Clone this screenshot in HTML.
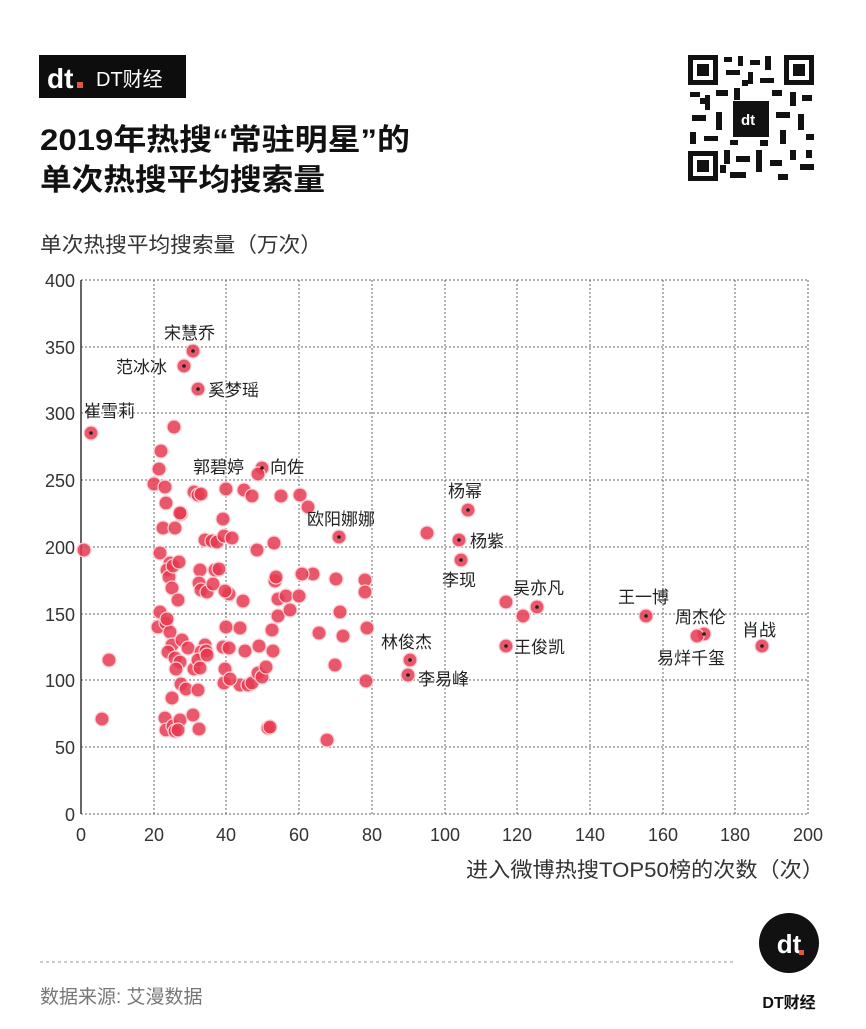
<!DOCTYPE html>
<html><head><meta charset="utf-8"><style>
body{margin:0;background:#fff;}
svg text{font-family:"Liberation Sans","Noto Sans CJK SC",sans-serif;}
</style></head><body>
<svg width="866" height="1024" viewBox="0 0 866 1024" xmlns="http://www.w3.org/2000/svg">
<rect width="866" height="1024" fill="#fff"/>
<!-- logo -->
<rect x="39" y="55" width="147" height="43" fill="#0d0d0d"/>
<text x="47" y="88" font-size="28" font-weight="bold" fill="#fff">dt</text>
<rect x="77" y="82" width="6" height="6" fill="#e0593f"/>
<text x="96" y="86" font-size="20" fill="#fff">DT财经</text>
<text x="40" y="150" font-size="30" font-weight="bold" fill="#111" textLength="370" lengthAdjust="spacingAndGlyphs">2019年热搜“常驻明星”的</text>
<text x="40" y="190" font-size="30" font-weight="bold" fill="#111" textLength="285" lengthAdjust="spacingAndGlyphs">单次热搜平均搜索量</text>
<text x="40" y="252" font-size="21" fill="#333" textLength="282" lengthAdjust="spacingAndGlyphs">单次热搜平均搜索量（万次）</text>
<!-- QR -->
<g id="qr" fill="#111">
<rect x="686" y="53" width="130" height="130" fill="#fff"/>
<g>
<rect x="688" y="55" width="30" height="30"/><rect x="693" y="60" width="20" height="20" fill="#fff"/><rect x="697" y="64" width="12" height="12"/>
<rect x="784" y="55" width="30" height="30"/><rect x="789" y="60" width="20" height="20" fill="#fff"/><rect x="793" y="64" width="12" height="12"/>
<rect x="688" y="151" width="30" height="30"/><rect x="693" y="156" width="20" height="20" fill="#fff"/><rect x="697" y="160" width="12" height="12"/>
<rect x="724" y="57" width="8" height="5"/><rect x="738" y="56" width="5" height="10"/><rect x="750" y="60" width="10" height="5"/><rect x="765" y="56" width="6" height="14"/><rect x="726" y="70" width="14" height="5"/><rect x="748" y="72" width="5" height="12"/><rect x="760" y="78" width="14" height="5"/>
<rect x="690" y="92" width="10" height="5"/><rect x="705" y="95" width="5" height="15"/><rect x="716" y="90" width="12" height="6"/><rect x="734" y="88" width="6" height="12"/><rect x="772" y="90" width="10" height="6"/><rect x="790" y="92" width="6" height="14"/><rect x="802" y="95" width="10" height="6"/>
<rect x="692" y="115" width="14" height="6"/><rect x="716" y="112" width="6" height="18"/><rect x="776" y="112" width="14" height="6"/><rect x="798" y="114" width="6" height="16"/><rect x="690" y="132" width="6" height="12"/><rect x="704" y="136" width="14" height="5"/><rect x="780" y="130" width="6" height="14"/><rect x="806" y="134" width="8" height="6"/>
<rect x="724" y="150" width="6" height="14"/><rect x="736" y="156" width="14" height="6"/><rect x="756" y="150" width="6" height="22"/><rect x="770" y="160" width="12" height="6"/><rect x="790" y="150" width="6" height="10"/><rect x="800" y="164" width="14" height="6"/><rect x="730" y="172" width="16" height="6"/><rect x="778" y="174" width="10" height="6"/><rect x="730" y="140" width="8" height="5"/>
<rect x="700" y="98" width="6" height="6"/><rect x="742" y="80" width="6" height="6"/><rect x="760" y="140" width="8" height="6"/><rect x="720" y="165" width="6" height="8"/><rect x="806" y="150" width="6" height="8"/>
</g>
<rect x="733" y="101" width="36" height="36" fill="#111"/>
<text x="741" y="125" font-size="15" font-weight="bold" fill="#fff">dt</text>
</g>
<!-- grid -->
<g stroke="#666" stroke-width="1" stroke-dasharray="2,2">
<line x1="81" y1="280" x2="808" y2="280"/><line x1="81" y1="347" x2="808" y2="347"/><line x1="81" y1="413" x2="808" y2="413"/><line x1="81" y1="480" x2="808" y2="480"/><line x1="81" y1="547" x2="808" y2="547"/><line x1="81" y1="614" x2="808" y2="614"/><line x1="81" y1="680" x2="808" y2="680"/><line x1="81" y1="747" x2="808" y2="747"/><line x1="81" y1="814" x2="808" y2="814"/>
<line x1="154" y1="280" x2="154" y2="814"/><line x1="226" y1="280" x2="226" y2="814"/><line x1="299" y1="280" x2="299" y2="814"/><line x1="372" y1="280" x2="372" y2="814"/><line x1="445" y1="280" x2="445" y2="814"/><line x1="517" y1="280" x2="517" y2="814"/><line x1="590" y1="280" x2="590" y2="814"/><line x1="663" y1="280" x2="663" y2="814"/><line x1="735" y1="280" x2="735" y2="814"/><line x1="808" y1="280" x2="808" y2="814"/>
</g>
<line x1="81" y1="280" x2="81" y2="814" stroke="#333" stroke-width="1.5"/>
<g font-size="18" fill="#333" text-anchor="end">
<text x="75" y="287">400</text><text x="75" y="354">350</text><text x="75" y="420">300</text><text x="75" y="487">250</text><text x="75" y="554">200</text><text x="75" y="621">150</text><text x="75" y="687">100</text><text x="75" y="754">50</text><text x="75" y="821">0</text>
</g>
<g font-size="18" fill="#333" text-anchor="middle">
<text x="81" y="841">0</text><text x="154" y="841">20</text><text x="226" y="841">40</text><text x="299" y="841">60</text><text x="372" y="841">80</text><text x="445" y="841">100</text><text x="517" y="841">120</text><text x="590" y="841">140</text><text x="663" y="841">160</text><text x="735" y="841">180</text><text x="808" y="841">200</text>
</g>
<text x="466" y="877" font-size="21" fill="#333" textLength="358" lengthAdjust="spacingAndGlyphs">进入微博热搜TOP50榜的次数（次）</text>
<!-- dots -->
<g fill="#e63a50" fill-opacity="0.85" stroke="#fbd0d5" stroke-width="1.2">
<circle cx="84" cy="550" r="7"/><circle cx="109" cy="660" r="7"/><circle cx="102" cy="719" r="7"/><circle cx="174" cy="427" r="7"/><circle cx="154" cy="484" r="7"/><circle cx="161" cy="451" r="7"/><circle cx="159" cy="469" r="7"/><circle cx="165" cy="487" r="7"/><circle cx="166" cy="503" r="7"/><circle cx="163" cy="528" r="7"/><circle cx="160" cy="553" r="7"/><circle cx="175" cy="528" r="7"/><circle cx="181" cy="514" r="7"/><circle cx="170" cy="563" r="7"/><circle cx="167" cy="570" r="7"/><circle cx="169" cy="577" r="7"/><circle cx="173" cy="566" r="7"/><circle cx="179" cy="562" r="7"/><circle cx="172" cy="588" r="7"/><circle cx="178" cy="600" r="7"/><circle cx="160" cy="612" r="7"/><circle cx="158" cy="627" r="7"/><circle cx="166" cy="623" r="7"/><circle cx="170" cy="632" r="7"/><circle cx="172" cy="645" r="7"/><circle cx="168" cy="652" r="7"/><circle cx="175" cy="658" r="7"/><circle cx="180" cy="662" r="7"/><circle cx="176" cy="669" r="7"/><circle cx="182" cy="640" r="7"/><circle cx="181" cy="684" r="7"/><circle cx="172" cy="698" r="7"/><circle cx="165" cy="718" r="7"/><circle cx="166" cy="730" r="7"/><circle cx="173" cy="726" r="7"/><circle cx="180" cy="720" r="7"/><circle cx="175" cy="731" r="7"/><circle cx="186" cy="689" r="7"/><circle cx="188" cy="648" r="7"/><circle cx="194" cy="669" r="7"/><circle cx="198" cy="690" r="7"/><circle cx="193" cy="715" r="7"/><circle cx="199" cy="729" r="7"/><circle cx="178" cy="730" r="7"/><circle cx="194" cy="492" r="7"/><circle cx="198" cy="495" r="7"/><circle cx="201" cy="494" r="7"/><circle cx="180" cy="513" r="7"/><circle cx="200" cy="570" r="7"/><circle cx="199" cy="583" r="7"/><circle cx="201" cy="590" r="7"/><circle cx="207" cy="592" r="7"/><circle cx="213" cy="584" r="7"/><circle cx="205" cy="540" r="7"/><circle cx="212" cy="541" r="7"/><circle cx="217" cy="542" r="7"/><circle cx="205" cy="645" r="7"/><circle cx="201" cy="652" r="7"/><circle cx="198" cy="660" r="7"/><circle cx="206" cy="651" r="7"/><circle cx="200" cy="668" r="7"/><circle cx="207" cy="655" r="7"/><circle cx="215" cy="570" r="7"/><circle cx="219" cy="569" r="7"/><circle cx="226" cy="489" r="7"/><circle cx="223" cy="519" r="7"/><circle cx="224" cy="536" r="7"/><circle cx="232" cy="538" r="7"/><circle cx="229" cy="594" r="7"/><circle cx="225" cy="591" r="7"/><circle cx="226" cy="627" r="7"/><circle cx="223" cy="647" r="7"/><circle cx="225" cy="669" r="7"/><circle cx="224" cy="683" r="7"/><circle cx="229" cy="648" r="7"/><circle cx="240" cy="628" r="7"/><circle cx="243" cy="601" r="7"/><circle cx="240" cy="685" r="7"/><circle cx="248" cy="685" r="7"/><circle cx="252" cy="683" r="7"/><circle cx="245" cy="651" r="7"/><circle cx="258" cy="673" r="7"/><circle cx="262" cy="677" r="7"/><circle cx="259" cy="646" r="7"/><circle cx="257" cy="550" r="7"/><circle cx="244" cy="490" r="7"/><circle cx="252" cy="496" r="7"/><circle cx="281" cy="496" r="7"/><circle cx="300" cy="495" r="7"/><circle cx="308" cy="507" r="7"/><circle cx="313" cy="574" r="7"/><circle cx="278" cy="599" r="7"/><circle cx="266" cy="667" r="7"/><circle cx="268" cy="728" r="7"/><circle cx="270" cy="727" r="7"/><circle cx="272" cy="630" r="7"/><circle cx="273" cy="651" r="7"/><circle cx="275" cy="581" r="7"/><circle cx="276" cy="577" r="7"/><circle cx="278" cy="616" r="7"/><circle cx="286" cy="596" r="7"/><circle cx="290" cy="610" r="7"/><circle cx="299" cy="596" r="7"/><circle cx="302" cy="574" r="7"/><circle cx="319" cy="633" r="7"/><circle cx="336" cy="579" r="7"/><circle cx="340" cy="612" r="7"/><circle cx="343" cy="636" r="7"/><circle cx="335" cy="665" r="7"/><circle cx="327" cy="740" r="7"/><circle cx="365" cy="580" r="7"/><circle cx="365" cy="592" r="7"/><circle cx="367" cy="628" r="7"/><circle cx="366" cy="681" r="7"/><circle cx="427" cy="533" r="7"/><circle cx="274" cy="543" r="7"/><circle cx="167" cy="619" r="7"/><circle cx="230" cy="679" r="7"/>
<circle cx="193" cy="351" r="7"/><circle cx="184" cy="366" r="7"/><circle cx="198" cy="389" r="7"/><circle cx="91" cy="433" r="7"/><circle cx="262" cy="468" r="7"/><circle cx="258" cy="474" r="7"/><circle cx="339" cy="537" r="7"/><circle cx="468" cy="510" r="7"/><circle cx="459" cy="540" r="7"/><circle cx="461" cy="560" r="7"/><circle cx="537" cy="607" r="7"/><circle cx="523" cy="616" r="7"/><circle cx="506" cy="602" r="7"/><circle cx="506" cy="646" r="7"/><circle cx="646" cy="616" r="7"/><circle cx="704" cy="634" r="7"/><circle cx="697" cy="636" r="7"/><circle cx="762" cy="646" r="7"/><circle cx="410" cy="660" r="7"/><circle cx="408" cy="675" r="7"/>
</g>
<g fill="#222">
<circle cx="193" cy="351" r="1.8"/><circle cx="184" cy="366" r="1.8"/><circle cx="198" cy="389" r="1.8"/><circle cx="91" cy="433" r="1.8"/><circle cx="262" cy="468" r="1.8"/><circle cx="339" cy="537" r="1.8"/><circle cx="468" cy="510" r="1.8"/><circle cx="459" cy="540" r="1.8"/><circle cx="461" cy="560" r="1.8"/><circle cx="537" cy="607" r="1.8"/><circle cx="506" cy="646" r="1.8"/><circle cx="646" cy="616" r="1.8"/><circle cx="704" cy="634" r="1.8"/><circle cx="762" cy="646" r="1.8"/><circle cx="410" cy="660" r="1.8"/><circle cx="408" cy="675" r="1.8"/>
</g>
<g font-size="17" fill="#222">
<text x="164" y="339">宋慧乔</text><text x="116" y="373">范冰冰</text><text x="208" y="396">奚梦瑶</text><text x="84" y="417">崔雪莉</text>
<text x="193" y="473">郭碧婷</text><text x="270" y="473">向佐</text><text x="307" y="525">欧阳娜娜</text>
<text x="448" y="497">杨幂</text><text x="470" y="547">杨紫</text><text x="442" y="586">李现</text>
<text x="513" y="594">吴亦凡</text><text x="514" y="653">王俊凯</text><text x="618" y="603">王一博</text>
<text x="675" y="623">周杰伦</text><text x="657" y="664">易烊千玺</text><text x="742" y="636">肖战</text>
<text x="381" y="648">林俊杰</text><text x="418" y="685">李易峰</text>
</g>
<!-- footer -->
<line x1="40" y1="962" x2="735" y2="962" stroke="#999" stroke-dasharray="3,3"/>
<text x="40" y="1003" font-size="19" fill="#777">数据来源: 艾漫数据</text>
<circle cx="789" cy="943" r="30" fill="#111"/>
<text x="789" y="953" font-size="26" font-weight="bold" fill="#fff" text-anchor="middle">dt</text>
<rect x="799" y="950" width="5" height="5" fill="#e0593f"/>
<text x="789" y="1008" font-size="16" font-weight="bold" fill="#111" text-anchor="middle">DT财经</text>
</svg>
</body></html>
